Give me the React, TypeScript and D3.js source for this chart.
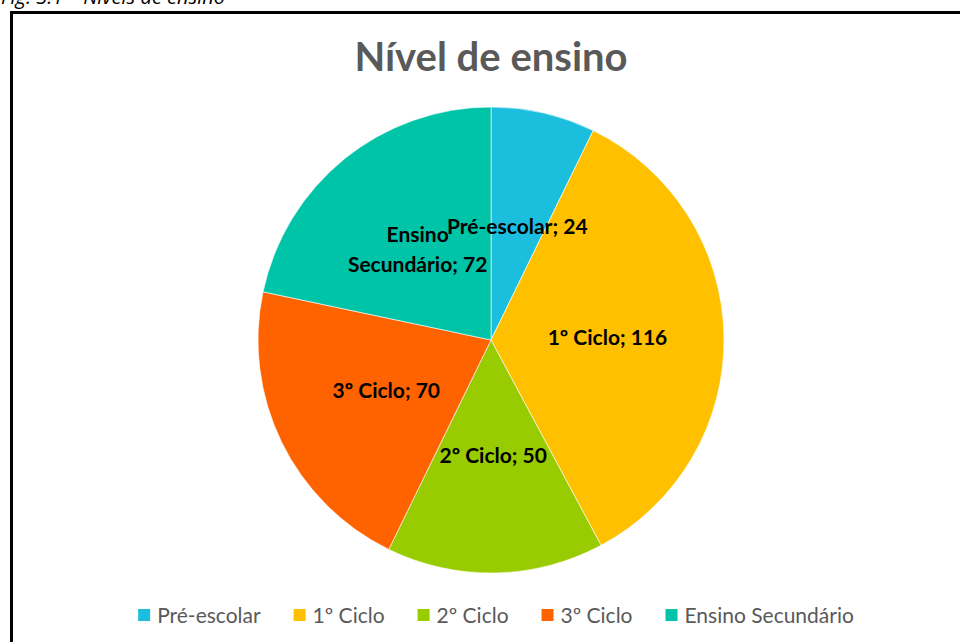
import { useRef, useEffect } from 'react';
import * as d3 from 'd3';

const categories = ['Pré-escolar', '1º Ciclo', '2º Ciclo', '3º Ciclo', 'Ensino Secundário'];
const values = [24, 116, 50, 70, 72];
const colors = ['#1CBEDE', '#FFC000', '#99CC00', '#FF6300', '#00C4A8'];
// label lines as Excel wrapped them
const labelLines = [['Pré-escolar; 24'], ['1º Ciclo; 116'], ['2º Ciclo; 50'], ['3º Ciclo; 70'], ['Ensino', 'Secundário; 72']];

const W = 960;
const H = 642;
const FONT = 'Lato, "Open Sans", sans-serif';

export default function App() {
  const svgRef = useRef<SVGSVGElement>(null);

  useEffect(() => {
    if (!svgRef.current) return;
    const svg = d3.select(svgRef.current);
    svg.selectAll('*').remove();

    svg.append('rect').attr('width', W).attr('height', H).attr('fill', '#fff');

    // figure caption above the frame, cut off by the crop
    svg.append('text')
      .attr('x', 1).attr('y', 4)
      .style('font-family', '"Open Sans", sans-serif').style('font-style', 'italic')
      .style('font-size', '20px').attr('fill', '#000')
      .text('Fig. 3.1 – Níveis de ensino');

    svg.append('rect')
      .attr('x', 11.5).attr('y', 12.5)
      .attr('width', 1000).attr('height', 700)
      .attr('fill', 'none').attr('stroke', '#000').attr('stroke-width', 3);

    svg.append('text')
      .attr('x', 491).attr('y', 71)
      .attr('text-anchor', 'middle')
      .style('font-family', FONT).style('font-weight', 'bold').style('font-size', '40px')
      .attr('fill', '#595959')
      .text('Nível de ensino');

    const cx = 491, cy = 340, radius = 233;
    const g = svg.append('g').attr('transform', `translate(${cx},${cy})`);

    const data = categories.map((c, i) => ({ c, v: values[i], i }));
    const pie = d3.pie<any>().value(d => d.v).sort(null);
    const arc = d3.arc<any>().innerRadius(0).outerRadius(radius);
    const arcs = pie(data);

    g.selectAll('path')
      .data(arcs)
      .enter().append('path')
      .attr('d', arc)
      .attr('fill', d => colors[d.data.i])
      .attr('stroke', '#fff')
      .attr('stroke-width', 0.6);

    arcs.forEach(a => {
      const [x, y] = arc.centroid(a);
      const lines = labelLines[a.data.i];
      const lh = 30;
      const t = g.append('text')
        .attr('text-anchor', 'middle')
        .style('font-family', FONT).style('font-weight', 'bold').style('font-size', '21px')
        .attr('fill', '#000');
      lines.forEach((l, k) => {
        t.append('tspan')
          .attr('x', x)
          .attr('y', y + 7 + (k - (lines.length - 1) / 2) * lh)
          .text(l);
      });
    });

    // legend
    const leg = svg.append('g');
    const items = categories.map((c, i) => {
      const gi = leg.append('g');
      gi.append('rect').attr('x', 0).attr('y', -6).attr('width', 12).attr('height', 12).attr('fill', colors[i]);
      const tx = gi.append('text').attr('x', 19).attr('y', 7.5)
        .style('font-family', FONT).style('font-size', '21px').attr('fill', '#595959').text(c);
      const w = 19 + (tx.node() as SVGTextElement).getComputedTextLength();
      return { gi, w };
    });
    const gap = 33;
    const total = d3.sum(items, d => d.w) + gap * (items.length - 1);
    let x0 = 496 - total / 2;
    items.forEach(it => {
      it.gi.attr('transform', `translate(${x0},615)`);
      x0 += it.w + gap;
    });
  }, []);

  return (
    <svg ref={svgRef} width={W} height={H}
      style={{ position: 'absolute', left: 0, top: 0, display: 'block' }} />
  );
}
